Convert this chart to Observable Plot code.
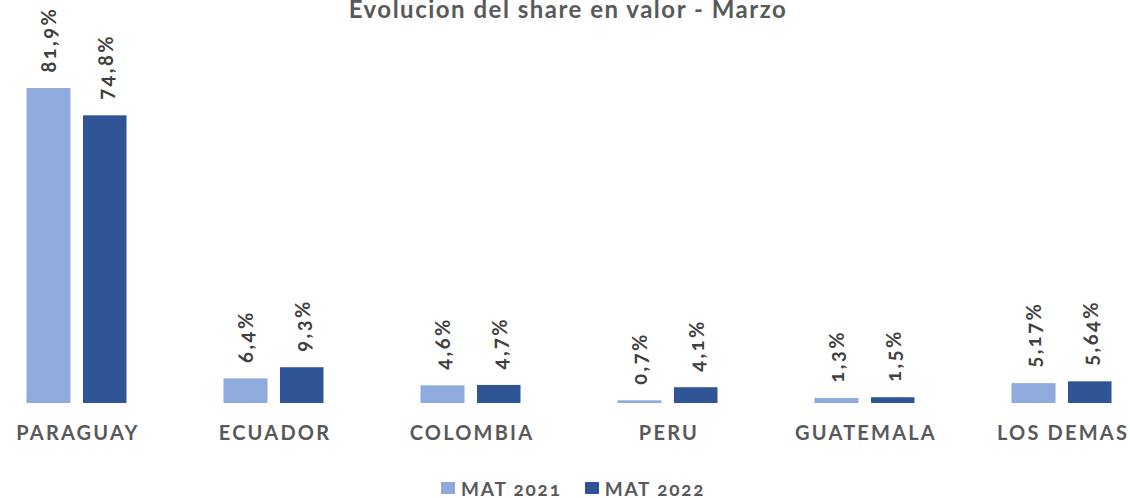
<!DOCTYPE html>
<html>
<head>
<meta charset="utf-8">
<script src="https://cdn.jsdelivr.net/npm/d3@7"></script>
<script src="https://cdn.jsdelivr.net/npm/@observablehq/plot@0.6"></script>
<style>
  body { margin: 0; background: #fff; font-family: Lato, "Open Sans", sans-serif; font-variant-numeric: oldstyle-nums; font-feature-settings: "onum" 1; }
  #wrap { position: relative; width: 1130px; height: 498px; overflow: hidden; }
  #title { position: absolute; left: 0; width: 1136px; top: -5px; text-align: center; font-size: 24px; letter-spacing: 1.5px; font-weight: 700; color: #595959; line-height: 28px; }
  #legend { position: absolute; top: 477px; left: 441px; height: 22px; display: flex; align-items: center; font-size: 19px; letter-spacing: 1.8px; font-weight: 700; color: #595959; }
  #legend .sw { width: 14px; height: 12px; display: inline-block; margin-right: 6px; }
  #legend .item { display: flex; align-items: center; margin-right: 23px; }
  #chart { position: absolute; left: 0; top: 0; }
  #chart svg text { font-variant-numeric: oldstyle-nums; font-feature-settings: "onum" 1; }
  #chart svg g[aria-label="x-axis tick label"] text { letter-spacing: 2.2px; }
  #chart svg g[aria-label="text"] text { letter-spacing: 2.5px; }
</style>
</head>
<body>
<div id="wrap">
  <div id="chart"></div>
  <div id="title">Evolucion del share en valor - Marzo</div>
  <div id="legend"></div>
</div>
<script>
const countries = ["PARAGUAY", "ECUADOR", "COLOMBIA", "PERU", "GUATEMALA", "LOS DEMAS"];
const series = ["MAT 2021", "MAT 2022"];
const values2021 = [81.9, 6.4, 4.6, 0.7, 1.3, 5.17];
const values2022 = [74.8, 9.3, 4.7, 4.1, 1.5, 5.64];
const labels2021 = ["81,9%", "6,4%", "4,6%", "0,7%", "1,3%", "5,17%"];
const labels2022 = ["74,8%", "9,3%", "4,7%", "4,1%", "1,5%", "5,64%"];
const colors = ["#8FAADC", "#2F5597"];

const d21 = countries.map((c, i) => ({country: c, value: values2021[i], label: labels2021[i]}));
const d22 = countries.map((c, i) => ({country: c, value: values2022[i], label: labels2022[i]}));

const labelStyle = {fontSize: 20, fontWeight: 700, fill: "#404040", rotate: -90, textAnchor: "start", fontFamily: "Lato, sans-serif"};

const plot = Plot.plot({
  width: 1130,
  height: 498,
  marginLeft: 0,
  marginRight: 0,
  marginTop: 0,
  marginBottom: 95,
  x: {domain: countries, range: [-22, 1160], padding: 0, label: null},
  y: {domain: [0, 100], range: [403, 18.4], axis: null},
  style: {fontFamily: "Lato, sans-serif", background: "white"},
  marks: [
    Plot.barY(d21, {x: "country", y: "value", fill: colors[0], insetLeft: 48.5, insetRight: 104.5}),
    Plot.barY(d22, {x: "country", y: "value", fill: colors[1], insetLeft: 105, insetRight: 48.5}),
    Plot.text(d21, {x: "country", y: "value", text: "label", dx: -27, dy: -16, ...labelStyle}),
    Plot.text(d22, {x: "country", y: "value", text: "label", dx: 30, dy: -16, ...labelStyle}),
    Plot.axisX({tickSize: 0, tickPadding: 22, fontSize: 20, fontWeight: 700, fill: "#595959", label: null, dx: 1})
  ]
});
document.getElementById("chart").appendChild(plot);

const legend = document.getElementById("legend");
series.forEach((s, i) => {
  const item = document.createElement("div");
  item.className = "item";
  item.innerHTML = `<span class="sw" style="background:${colors[i]}"></span><span>${s}</span>`;
  legend.appendChild(item);
});
</script>
</body>
</html>
